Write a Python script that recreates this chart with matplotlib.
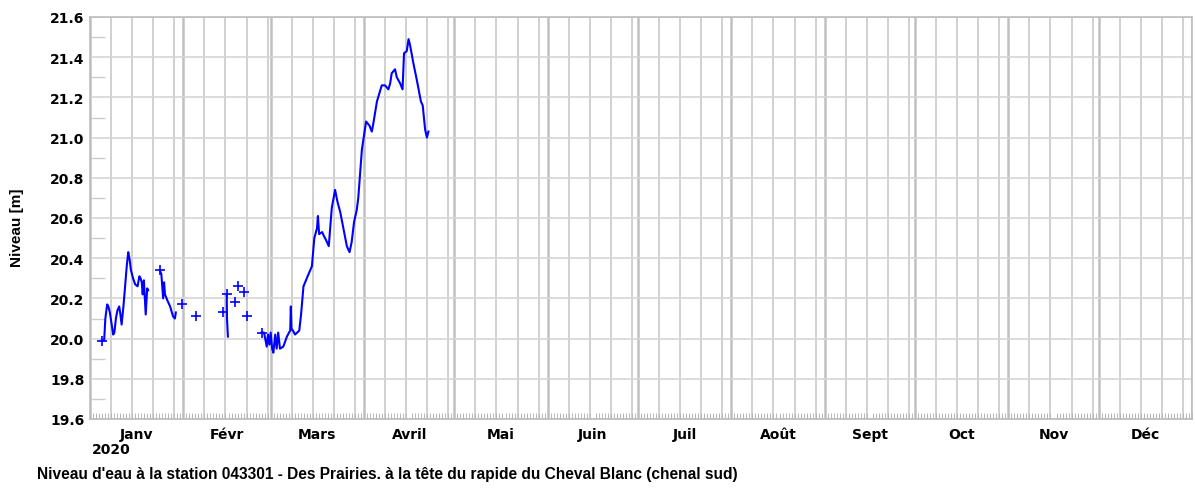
import numpy as np
import pandas as pd
import matplotlib
matplotlib.use("Agg")
import matplotlib.pyplot as plt
from matplotlib.ticker import MultipleLocator

# Data ---------------------------------------------------------------
# x = days since 2020-01-01 (fractional), y = water level [m]
jan_days = [3.9, 4.7, 5.1, 5.7, 6.1, 6.6, 7.3, 7.7, 8.1, 8.6,
            9.1, 9.7, 10.1, 10.5, 11.1, 11.6, 12.2, 12.7, 13.1, 13.6,
            14.3, 15.0, 15.8, 16.4, 16.8, 17.2, 17.5, 17.9, 18.5, 19.0,
            19.3]
jan_level = [19.99, 19.99, 20.10, 20.17, 20.16, 20.13, 20.06, 20.02, 20.03, 20.10,
             20.14, 20.16, 20.12, 20.07, 20.16, 20.25, 20.36, 20.43, 20.40, 20.34,
             20.30, 20.27, 20.26, 20.31, 20.30, 20.28, 20.22, 20.29, 20.12, 20.25,
             20.24]

late_jan_days = [23.2, 23.7, 24.3, 24.6, 24.9, 25.7, 26.6, 27.6, 28.2, 28.5]
late_jan_level = [20.34, 20.32, 20.20, 20.28, 20.22, 20.19, 20.16, 20.11, 20.10, 20.13]

feb_drop_days = [45.4, 45.5, 45.8]
feb_drop_level = [20.22, 20.10, 20.01]

# isolated readings
point_days = [30.5, 35.2, 44.1, 48.2, 49.1, 51.2, 52.3]
point_level = [20.17, 20.11, 20.13, 20.18, 20.26, 20.23, 20.11]

spring_days = [57.0, 57.8, 58.7, 59.1, 59.6, 60.0, 60.5, 60.9, 61.5, 62.0,
               62.5, 63.1, 64.2, 65.4, 66.1, 66.5, 66.7, 66.9, 67.4, 68.1,
               68.8, 69.5, 70.1, 70.9, 72.0, 73.7, 74.5, 75.4, 75.7, 76.1,
               77.1, 77.7, 78.4, 79.3, 80.3, 81.4, 82.2, 83.1, 84.4, 85.3,
               86.2, 86.9, 87.7, 88.6, 89.1, 90.3, 90.8, 91.7, 92.8, 93.6,
               94.1, 95.3, 96.9, 98.0, 99.1, 99.7, 100.2, 101.3, 101.9, 103.0,
               103.8, 104.3, 105.2, 105.8, 106.3, 107.4, 108.5, 109.9, 110.5, 111.3,
               111.9, 112.4]
spring_level = [20.03, 20.03, 19.96, 20.02, 19.97, 20.03, 19.95, 19.93, 20.02, 19.95,
                20.03, 19.95, 19.96, 20.01, 20.03, 20.04, 20.16, 20.05, 20.04, 20.02,
                20.03, 20.04, 20.12, 20.26, 20.30, 20.36, 20.50, 20.55, 20.61, 20.52,
                20.53, 20.51, 20.49, 20.46, 20.65, 20.74, 20.68, 20.63, 20.53, 20.46,
                20.43, 20.48, 20.58, 20.64, 20.70, 20.94, 20.99, 21.08, 21.06, 21.03,
                21.07, 21.18, 21.26, 21.26, 21.24, 21.27, 21.32, 21.34, 21.30, 21.27,
                21.24, 21.42, 21.43, 21.49, 21.46, 21.37, 21.29, 21.18, 21.16, 21.04,
                21.00, 21.03]

month_labels = ["Janv", "Févr", "Mars", "Avril", "Mai", "Juin",
                "Juil", "Août", "Sept", "Oct", "Nov", "Déc"]
year_label = "2020"
y_label = "Niveau [m]"
title = ("Niveau d'eau à la station 043301 - Des Prairies. "
         "à la tête du rapide du Cheval Blanc (chenal sud)")

# Calendar grid --------------------------------------------------------
month_starts = pd.date_range("2020-01-01", "2021-01-01", freq="MS")
month_pos = np.asarray((month_starts - month_starts[0]).days, dtype=float)
month_mid = (month_pos[:-1] + month_pos[1:]) / 2
week_pos = []
for start, end in zip(month_pos[:-1], month_pos[1:]):
    for d in (8, 15, 22, 29):
        if start + d - 1 < end:
            week_pos.append(start + d - 1)

# Plot ---------------------------------------------------------------
W, H = 1195, 489
fig = plt.figure(figsize=(W / 100, H / 100), dpi=100)
ax = fig.add_axes([90 / W, 1 - 420 / H, (1192 - 90) / W, (420 - 18) / H])

ax.set_xlim(0, month_pos[-1])
ax.set_ylim(19.6, 21.6)

for x in week_pos:
    ax.axvline(x, color="#cdcdcd", lw=1.3, zorder=1)
for x in month_pos:
    ax.axvline(x, color="#c0c0c0", lw=1.8, zorder=1)

ax.yaxis.set_major_locator(MultipleLocator(0.2))
ax.yaxis.set_minor_locator(MultipleLocator(0.1))
ax.grid(axis="y", which="major", color="#d6d6d6", lw=1.2, zorder=1)
ax.tick_params(axis="y", which="major", length=0, pad=4)
ax.tick_params(axis="y", which="minor", direction="in", length=11,
               width=1.0, color="#cccccc")
ax.set_yticklabels([f"{v:.1f}" for v in ax.get_yticks()],
                   family="DejaVu Sans", fontweight="bold", fontsize=10)

ax.set_xticks(np.arange(0, month_pos[-1] + 1), minor=True)
ax.tick_params(axis="x", which="minor", direction="in", length=4,
               width=0.7, color="#b8b8b8")
ax.set_xticks(month_mid)
ax.set_xticklabels(month_labels, family="DejaVu Sans", fontweight="bold",
                   fontsize=10)
ax.tick_params(axis="x", which="major", length=0, pad=6)

for s in ax.spines.values():
    s.set_color("#bcbcbc")
    s.set_linewidth(1.2)

blue = "#0000ff"
for days, level in [(jan_days, jan_level), (late_jan_days, late_jan_level),
                    (feb_drop_days, feb_drop_level), (spring_days, spring_level)]:
    ax.plot(days, level, color=blue, lw=1.5, zorder=3,
            marker="+", markevery=[0], ms=7, mew=1.2)
ax.plot(point_days, point_level, "+", color=blue, ms=7, mew=1.2, zorder=3)

fig.text(92 / W, 1 - 443 / H, year_label, ha="left", va="top",
         family="DejaVu Sans", fontweight="bold", fontsize=10)
fig.text(17 / W, 1 - 228 / H, y_label, rotation=90, ha="center", va="center",
         family="Liberation Sans", fontweight="bold", fontsize=11)
fig.text(37 / W, 1 - 479 / H, title, ha="left", va="baseline",
         family="Liberation Sans", fontweight="bold", fontsize=11.2)

fig.savefig("out.png", dpi=100)
